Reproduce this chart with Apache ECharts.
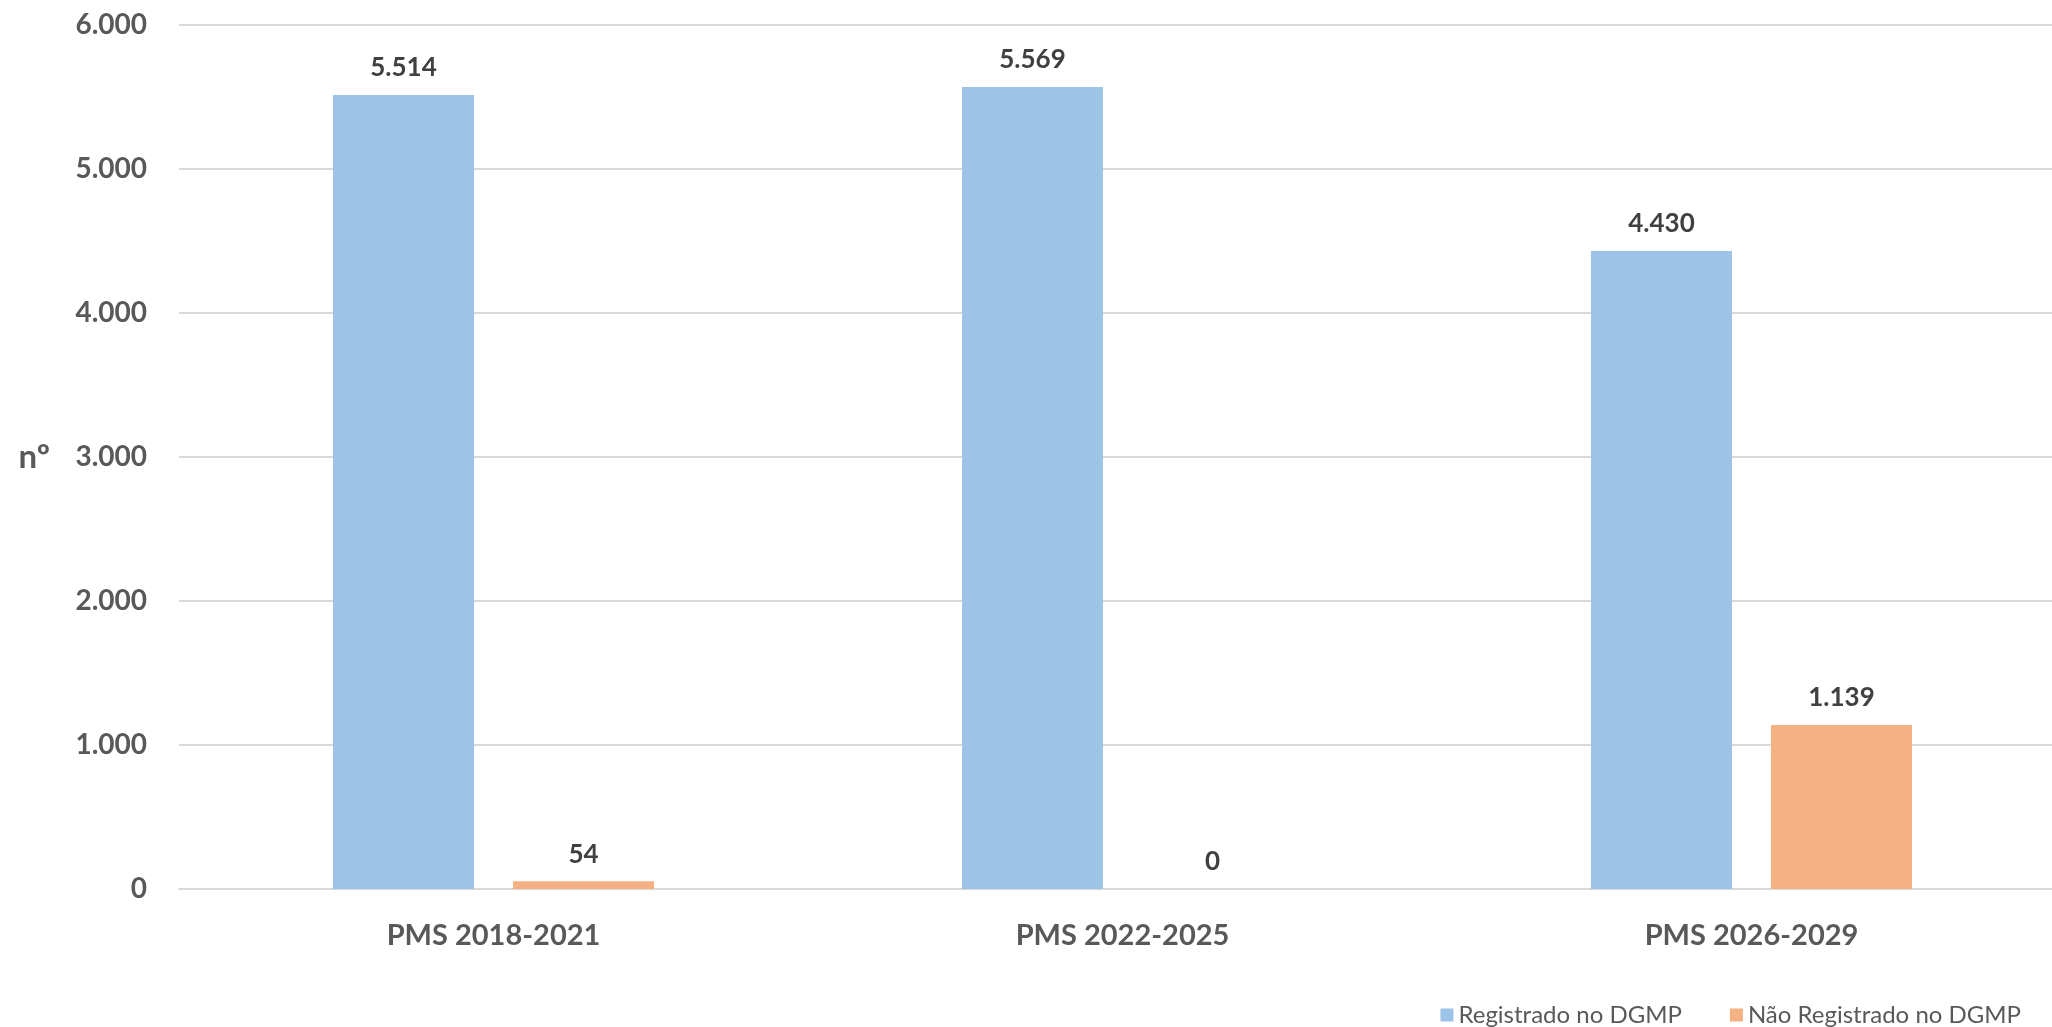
<!DOCTYPE html>
<html>
<head>
<meta charset="utf-8">
<script src="https://cdn.jsdelivr.net/npm/echarts@6/dist/echarts.min.js"></script>
<style>
html,body{margin:0;padding:0;background:#fff;}
#chart{width:2052px;height:1027px;}
</style>
</head>
<body>
<div id="chart"></div>
<script>
const categories = ['PMS 2018-2021', 'PMS 2022-2025', 'PMS 2026-2029'];
const seriesNames = ['Registrado no DGMP', 'Não Registrado no DGMP'];
const registrado = [5514, 5569, 4430];
const naoRegistrado = [54, 0, 1139];
const yTicks = [0, 1000, 2000, 3000, 4000, 5000, 6000];

function fmt(v) {
  return String(v).replace(/\B(?=(\d{3})+(?!\d))/g, '.');
}

const FONT = 'Lato';
const chart = echarts.init(document.getElementById('chart'));
const labelCfg = {
  show: true,
  position: 'top',
  distance: 14,
  color: '#404040',
  fontFamily: FONT,
  fontWeight: 'bold',
  fontSize: 26,
  formatter: p => fmt(p.value)
};
chart.setOption({
  animation: false,
  grid: { left: 179, width: 1887, top: 25, bottom: 138, containLabel: false, outerBoundsMode: 'none' },
  legend: {
    data: seriesNames,
    right: 26,
    top: 998,
    itemWidth: 13,
    itemHeight: 13,
    itemGap: 48,
    icon: 'rect',
    textStyle: { fontFamily: FONT, fontSize: 24, color: '#595959' }
  },
  xAxis: {
    type: 'category',
    data: categories,
    axisTick: { show: false },
    axisLine: { lineStyle: { color: '#d9d9d9', width: 2 } },
    axisLabel: { margin: 32, color: '#595959', fontFamily: FONT, fontWeight: 'bold', fontSize: 29 }
  },
  yAxis: {
    type: 'value',
    min: yTicks[0],
    max: yTicks[yTicks.length - 1],
    interval: 1000,
    name: 'nº',
    nameLocation: 'middle',
    nameRotate: 0,
    nameGap: 129,
    nameTextStyle: { color: '#595959', fontFamily: FONT, fontWeight: 'bold', fontSize: 33 },
    axisLine: { show: false },
    axisTick: { show: false },
    splitLine: { lineStyle: { color: '#d9d9d9', width: 2 } },
    axisLabel: { margin: 32, color: '#595959', fontFamily: FONT, fontWeight: 'bold', fontSize: 28, formatter: v => fmt(v) }
  },
  series: [
    { name: seriesNames[0], type: 'bar', data: registrado, barWidth: 141, barGap: '27.7%',
      itemStyle: { color: '#9DC3E6' }, label: labelCfg },
    { name: seriesNames[1], type: 'bar', data: naoRegistrado, barWidth: 141, barGap: '27.7%',
      itemStyle: { color: '#F4B183' }, label: labelCfg }
  ]
});
</script>
</body>
</html>
